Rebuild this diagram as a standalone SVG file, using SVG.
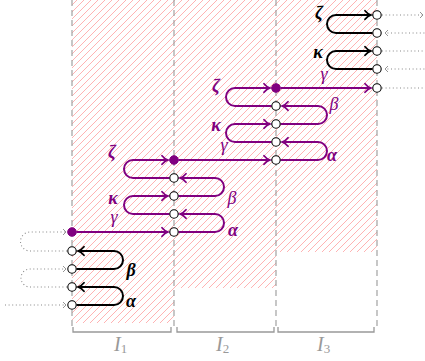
<svg xmlns="http://www.w3.org/2000/svg" width="425" height="361" viewBox="0 0 425 361">
<defs>
<pattern id="hatch" patternUnits="userSpaceOnUse" width="7" height="7">
<path d="M-1,1 L1,-1 M0,7 L7,0 M6,8 L8,6" stroke="#ffb3b3" stroke-width="1"/>
</pattern>
<marker id="ap" markerUnits="userSpaceOnUse" markerWidth="14" markerHeight="14" viewBox="-8 -7 10 14" refX="0" refY="0" orient="auto" overflow="visible">
<path d="M-6,-4.3 C-4,-1.8 -1.5,-0.4 0,0 C-1.5,0.4 -4,1.8 -6,4.3" fill="none" stroke="#800080" stroke-width="1.8" stroke-linecap="round"/>
</marker>
<marker id="ab" markerUnits="userSpaceOnUse" markerWidth="14" markerHeight="14" viewBox="-8 -7 10 14" refX="0" refY="0" orient="auto" overflow="visible">
<path d="M-6,-4.3 C-4,-1.8 -1.5,-0.4 0,0 C-1.5,0.4 -4,1.8 -6,4.3" fill="none" stroke="#000" stroke-width="1.8" stroke-linecap="round"/>
</marker>
<marker id="ag" markerUnits="userSpaceOnUse" markerWidth="8" markerHeight="8" viewBox="-5 -4 6 8" refX="0" refY="0" orient="auto" overflow="visible">
<path d="M-3,-3 L0,0 L-3,3" fill="none" stroke="#888" stroke-width="0.9"/>
</marker>
<style>
.dash{stroke:#999;stroke-width:1.1;stroke-dasharray:6 4;fill:none}
.br{stroke:#999;stroke-width:1.3;fill:none}
.dot{stroke:#888;stroke-width:1.1;stroke-dasharray:1 2.6;fill:none}
.pl{stroke:#800080;stroke-width:2;fill:none}
.bl{stroke:#000;stroke-width:2;fill:none}
.on{fill:#fff;stroke:#000;stroke-width:1.1}
.fn{fill:#800080;stroke:#800080;stroke-width:1}
.gp{font-family:"Liberation Serif","DejaVu Serif",serif;font-style:italic;font-size:18px;fill:#800080;text-anchor:middle}
.gb{font-family:"Liberation Serif","DejaVu Serif",serif;font-style:italic;font-weight:bold;font-size:18px;fill:#000;text-anchor:middle}
.il{font-family:"Liberation Serif","DejaVu Serif",serif;font-style:italic;font-size:20px;fill:#999}
</style>
</defs>

<g id="regions">
<rect x="72" y="0" width="102" height="323" fill="url(#hatch)"/>
<rect x="174" y="0" width="102" height="288" fill="url(#hatch)"/>
<rect x="276" y="0" width="101" height="252" fill="url(#hatch)"/>
<path class="dash" d="M72,0 V330 M174,0 V330 M276,0 V330 M377,0 V330"/>
</g>

<g id="intervals">
<path class="br" d="M73,327 V332 H171 V327 M177,327 V332 H274 V327 M278,327 V332 H374 V327"/>
<text class="il" x="114" y="351">I<tspan font-size="13" font-style="normal" dy="2">1</tspan></text>
<text class="il" x="216" y="351">I<tspan font-size="13" font-style="normal" dy="2">2</tspan></text>
<text class="il" x="317" y="351">I<tspan font-size="13" font-style="normal" dy="2">3</tspan></text>
</g>

<g id="connectors">
<path class="dot" d="M5,305 H66" marker-end="url(#ag)"/>
<path class="dot" d="M67,287 H30 A9 9 0 0 1 30,269 H66" marker-end="url(#ag)"/>
<path class="dot" d="M67,251 H30 A9 9 0 0 1 30,232 H66" marker-end="url(#ag)"/>
<path class="dot" d="M382,15 H423" marker-end="url(#ag)"/>
<path class="dot" d="M428,33 H385" marker-end="url(#ag)"/>
<path class="dot" d="M382,51 H428"/>
<path class="dot" d="M428,69 H385" marker-end="url(#ag)"/>
<path class="dot" d="M382,88 H428"/>
<path class="bl" d="M76.5,305 H114 A9 9 0 0 0 114,287 H78" marker-end="url(#ab)"/>
<path class="bl" d="M76.5,269 H114 A9 9 0 0 0 114,251 H78" marker-end="url(#ab)"/>
<path class="bl" d="M372.5,33 H336 A9 9 0 0 1 336,15 H371" marker-end="url(#ab)"/>
<path class="bl" d="M372.5,69 H336 A9 9 0 0 1 336,51 H371" marker-end="url(#ab)"/>
<path class="pl" d="M76.5,232 H168" marker-end="url(#ap)"/>
<path class="pl" d="M178.5,160 H270" marker-end="url(#ap)"/>
<path class="pl" d="M280.5,88 H371" marker-end="url(#ap)"/>
<path class="pl" d="M178.5,232 H215 A9 9 0 0 0 215,214 H180" marker-end="url(#ap)"/>
<path class="pl" d="M169.5,214 H133 A9 9 0 0 1 133,196 H168" marker-end="url(#ap)"/>
<path class="pl" d="M178.5,196 H215 A9 9 0 0 0 215,178 H180" marker-end="url(#ap)"/>
<path class="pl" d="M169.5,178 H133 A9 9 0 0 1 133,160 H168" marker-end="url(#ap)"/>
<path class="pl" d="M280.5,160 H318 A9 9 0 0 0 318,142 H282" marker-end="url(#ap)"/>
<path class="pl" d="M271.5,142 H235 A9 9 0 0 1 235,124 H270" marker-end="url(#ap)"/>
<path class="pl" d="M280.5,124 H318 A9 9 0 0 0 318,106 H282" marker-end="url(#ap)"/>
<path class="pl" d="M271.5,106 H235 A9 9 0 0 1 235,88 H270" marker-end="url(#ap)"/>
</g>

<g id="labels">
<text class="gb" x="131" y="276">β</text>
<text class="gb" x="131" y="307">α</text>
<text class="gb" x="319" y="19">ζ</text>
<text class="gb" x="318" y="58">κ</text>
<text class="gp" x="114" y="223">γ</text>
<text class="gp" x="112" y="158" font-weight="bold">ζ</text>
<text class="gp" x="113" y="204" font-weight="bold">κ</text>
<text class="gp" x="232" y="204">β</text>
<text class="gp" x="233" y="236" font-weight="bold">α</text>
<text class="gp" x="224" y="151">γ</text>
<text class="gp" x="216" y="92" font-weight="bold">ζ</text>
<text class="gp" x="216" y="131" font-weight="bold">κ</text>
<text class="gp" x="334" y="110">β</text>
<text class="gp" x="332" y="161" font-weight="bold">α</text>
<text class="gp" x="324" y="80">γ</text>
</g>

<g id="n1"><circle class="fn" cx="72" cy="232" r="4.3"/></g>
<g id="n2"><circle class="on" cx="72" cy="251" r="4.2"/></g>
<g id="n3"><circle class="on" cx="72" cy="269" r="4.2"/></g>
<g id="n4"><circle class="on" cx="72" cy="287" r="4.2"/></g>
<g id="n5"><circle class="on" cx="72" cy="305" r="4.2"/></g>
<g id="n6"><circle class="fn" cx="174" cy="160" r="4.3"/></g>
<g id="n7"><circle class="on" cx="174" cy="178" r="4.2"/></g>
<g id="n8"><circle class="on" cx="174" cy="196" r="4.2"/></g>
<g id="n9"><circle class="on" cx="174" cy="214" r="4.2"/></g>
<g id="n10"><circle class="on" cx="174" cy="232" r="4.2"/></g>
<g id="n11"><circle class="fn" cx="276" cy="88" r="4.3"/></g>
<g id="n12"><circle class="on" cx="276" cy="106" r="4.2"/></g>
<g id="n13"><circle class="on" cx="276" cy="124" r="4.2"/></g>
<g id="n14"><circle class="on" cx="276" cy="142" r="4.2"/></g>
<g id="n15"><circle class="on" cx="276" cy="160" r="4.2"/></g>
<g id="n16"><circle class="on" cx="377" cy="15" r="4.2"/></g>
<g id="n17"><circle class="on" cx="377" cy="33" r="4.2"/></g>
<g id="n18"><circle class="on" cx="377" cy="51" r="4.2"/></g>
<g id="n19"><circle class="on" cx="377" cy="69" r="4.2"/></g>
<g id="n20"><circle class="on" cx="377" cy="88" r="4.2"/></g>
</svg>
